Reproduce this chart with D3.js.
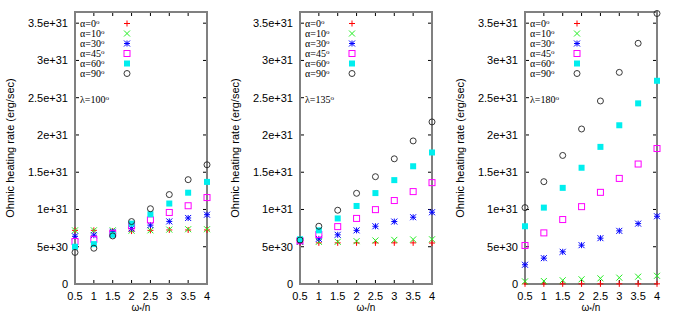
<!DOCTYPE html>
<html>
<head>
<meta charset="utf-8">
<script src="https://cdn.jsdelivr.net/npm/d3@7"></script>
<style>
  body { margin: 0; background: #fff; }
  svg { display: block; }
</style>
</head>
<body>
<svg id="chart" width="675" height="315"></svg>
<script>
// omega*/n values, shared by every panel
const omega = [0.5, 1, 1.5, 2, 2.5, 3, 3.5, 4];
const xTicks = [0.5, 1, 1.5, 2, 2.5, 3, 3.5, 4];
const yTicks = [0, 5e30, 1e31, 1.5e31, 2e31, 2.5e31, 3e31, 3.5e31];
const yTickLabels = ['0', '5e+30', '1e+31', '1.5e+31', '2e+31', '2.5e+31', '3e+31', '3.5e+31'];
const alphas = ['0', '10', '30', '45', '60', '90'];
const lambdas = ['100', '135', '180'];

// heating rate, units of 1e31 erg/sec, one array per alpha
const lam100 = [
  [0.72, 0.72, 0.71, 0.71, 0.72, 0.725, 0.725, 0.725],
  [0.72, 0.72, 0.72, 0.715, 0.72, 0.73, 0.735, 0.735],
  [0.64, 0.655, 0.70, 0.745, 0.79, 0.84, 0.886, 0.93],
  [0.57, 0.60, 0.68, 0.78, 0.86, 0.96, 1.05, 1.16],
  [0.50, 0.535, 0.66, 0.81, 0.936, 1.08, 1.225, 1.37],
  [0.424, 0.48, 0.645, 0.838, 1.01, 1.20, 1.40, 1.60]
];
const lam135 = [
  [0.555, 0.552, 0.552, 0.552, 0.552, 0.552, 0.552, 0.55],
  [0.565, 0.566, 0.566, 0.575, 0.584, 0.592, 0.598, 0.60],
  [0.57, 0.606, 0.66, 0.72, 0.775, 0.838, 0.896, 0.963],
  [0.58, 0.664, 0.77, 0.88, 0.998, 1.12, 1.24, 1.36],
  [0.60, 0.72, 0.88, 1.047, 1.22, 1.394, 1.58, 1.765],
  [0.59, 0.775, 0.99, 1.217, 1.44, 1.68, 1.92, 2.175]
];
const lam180 = [
  [0.002, 0.002, 0.002, 0.002, 0.002, 0.002, 0.002, 0.002],
  [0.035, 0.04, 0.05, 0.063, 0.076, 0.085, 0.098, 0.11],
  [0.258, 0.347, 0.432, 0.521, 0.615, 0.713, 0.81, 0.909],
  [0.517, 0.686, 0.865, 1.038, 1.23, 1.417, 1.61, 1.818],
  [0.775, 1.025, 1.29, 1.56, 1.84, 2.13, 2.424, 2.727],
  [1.025, 1.373, 1.725, 2.08, 2.456, 2.84, 3.23, 3.63]
];
const panels = [lam100, lam135, lam180];

const colors = ['#ff0000', '#22ee22', '#0000ff', '#ff00ff', '#00eeee', '#222222'];

const svg = d3.select('#chart');
const panelW = 225;
const margin = { left: 75, right: 18, top: 12, bottom: 31 };
const H = 315;

const x = d3.scaleLinear().domain([0.5, 4]).range([margin.left, panelW - margin.right]);
const y = d3.scaleLinear().domain([0, 3.65e31]).range([H - margin.bottom, margin.top]);

// gnuplot-style point types
function drawPoint(g, k, px, py, c) {
  const s = 3;
  if (k === 0 || k === 2) {
    g.append('path').attr('d', `M${px - s},${py}H${px + s}M${px},${py - s}V${py + s}`)
      .attr('stroke', c).attr('stroke-width', 1).attr('fill', 'none');
  }
  if (k === 1 || k === 2) {
    g.append('path').attr('d', `M${px - s},${py - s}L${px + s},${py + s}M${px - s},${py + s}L${px + s},${py - s}`)
      .attr('stroke', c).attr('stroke-width', 1).attr('fill', 'none');
  }
  if (k === 3) {
    g.append('rect').attr('x', px - s).attr('y', py - s).attr('width', 2 * s).attr('height', 2 * s)
      .attr('stroke', c).attr('stroke-width', 1).attr('fill', 'none');
  }
  if (k === 4) {
    g.append('rect').attr('x', px - s).attr('y', py - s).attr('width', 2 * s).attr('height', 2 * s)
      .attr('fill', c);
  }
  if (k === 5) {
    g.append('circle').attr('cx', px).attr('cy', py).attr('r', s)
      .attr('stroke', c).attr('stroke-width', 0.9).attr('fill', 'none');
  }
}

panels.forEach((series, p) => {
  const g = svg.append('g').attr('transform', `translate(${p * panelW},0)`);
  const x0 = x.range()[0], x1 = x.range()[1];
  const y0 = y.range()[0], y1 = y.range()[1];

  // ticks, inward on all four sides
  const ticks = g.append('g').attr('stroke', '#000').attr('stroke-width', 1);
  xTicks.forEach(t => {
    ticks.append('line').attr('x1', x(t)).attr('x2', x(t)).attr('y1', y0).attr('y2', y0 - 4);
    ticks.append('line').attr('x1', x(t)).attr('x2', x(t)).attr('y1', y1).attr('y2', y1 + 4);
  });
  yTicks.forEach(t => {
    ticks.append('line').attr('x1', x0).attr('x2', x0 + 4).attr('y1', y(t)).attr('y2', y(t));
    ticks.append('line').attr('x1', x1).attr('x2', x1 - 4).attr('y1', y(t)).attr('y2', y(t));
  });

  // border
  g.append('rect').attr('x', x0).attr('y', y1).attr('width', x1 - x0).attr('height', y0 - y1)
    .attr('fill', 'none').attr('stroke', '#808080').attr('stroke-width', 2);

  // tick labels
  const lab = g.append('g').attr('font-family', 'Liberation Sans, Arial, sans-serif')
    .attr('font-size', 11).attr('fill', '#000');
  xTicks.forEach(t => {
    lab.append('text').attr('x', x(t)).attr('y', y0 + 16).attr('text-anchor', 'middle').text(t);
  });
  yTicks.forEach((t, i) => {
    lab.append('text').attr('x', x0 - 7).attr('y', y(t) + 4).attr('text-anchor', 'end').text(yTickLabels[i]);
  });

  // axis titles
  lab.append('text').attr('x', (x0 + x1) / 2).attr('y', 311).attr('text-anchor', 'middle')
    .attr('font-size', 10).html('ω<tspan font-size="7" dy="1">*</tspan><tspan dy="-1">/n</tspan>');
  lab.append('text').attr('transform', `translate(14,${(y0 + y1) / 2}) rotate(-90)`)
    .attr('text-anchor', 'middle').attr('font-size', 11).text('Ohmic heating rate (erg/sec)');

  // legend
  const leg = g.append('g').attr('font-family', 'Liberation Serif, Times New Roman, serif')
    .attr('font-size', 10).attr('fill', '#000');
  alphas.forEach((a, i) => {
    const ly = 23.5 + i * 10;
    const t = leg.append('text').attr('x', 80).attr('y', ly + 3.5);
    t.append('tspan').text(`α=${a}`);
    t.append('tspan').attr('font-size', 7).attr('dy', -3).text('o');
    drawPoint(g, i, 127, ly, colors[i]);
  });
  const lt = leg.append('text').attr('x', 80).attr('y', 103);
  lt.append('tspan').text(`λ=${lambdas[p]}`);
  lt.append('tspan').attr('font-size', 7).attr('dy', -3).text('o');

  // data
  const pts = g.append('g');
  series.forEach((vals, k) => {
    vals.forEach((v, j) => drawPoint(pts, k, x(omega[j]), y(v * 1e31), colors[k]));
  });
});
</script>
</body>
</html>
